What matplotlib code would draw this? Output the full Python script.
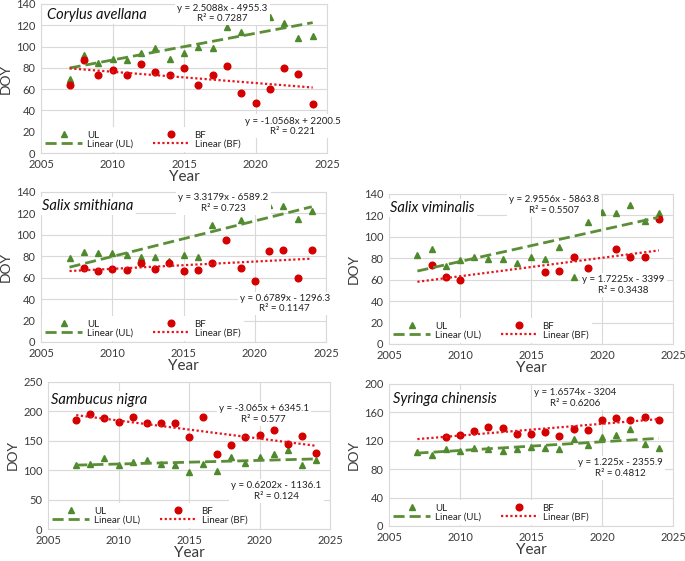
import numpy as np
import matplotlib
matplotlib.use('Agg')
import matplotlib.pyplot as plt
from matplotlib.lines import Line2D

plt.rcParams['font.family'] = ['Lato', 'DejaVu Sans']

nan = np.nan
years = list(range(2007, 2025))

# ---- data (DOY) ----
corylus_ul = [70, 92, 85, 88, 87, 94, 99, 88, 94, 100, 99, 118, 114, nan, 128, 122, 108, 110]
corylus_bf = [64, 87, 73, 78, 73, 84, 76, 73, 80, 64, 73, 82, 56, 47, 60, 80, 74, 46]
corylus_ul_fit = [2.5088, -4955.3]
corylus_bf_fit = [-1.0568, 2200.5]

smith_ul = [78, 84, 83, 83, 81, 79, 79, 76, 81, 79, 109, nan, 114, nan, 128, 127, 115, 122]
smith_bf = [nan, 69, 66, 68, 67, 74, 68, 74, 66, 67, 74, 95, 69, 57, 85, 86, 60, 86]
smith_ul_fit = [3.3179, -6589.2]
smith_bf_fit = [0.6789, -1296.3]

vimin_ul = [83, 89, 73, 78, 81, 79, 79, 76, 81, 79, 91, 63, 114, 123, 122, 130, 115, 122]
vimin_bf = [nan, 74, 63, 60, nan, nan, nan, nan, nan, 67, 68, 81, 71, nan, 89, 81, 81, 117]
vimin_ul_fit = [2.9556, -5863.8]
vimin_bf_fit = [1.7225, -3399]

samb_ul = [109, 110, 120, 109, 114, 117, 111, 109, 97, 110, 99, 122, 113, 123, 128, 135, 108, 117]
samb_bf = [185, 196, 188, 182, 190, 181, 180, 181, 156, 191, 127, 143, 157, 160, 168, 145, 158, 130]
samb_ul_fit = [0.6202, -1136.1]
samb_bf_fit = [-3.065, 6345.1]

syr_ul = [104, 100, 108, 105, 110, 109, 105, 109, 111, 110, 109, 122, 114, 125, 128, 137, 115, 110]
syr_bf = [nan, nan, 125, 128, 134, 140, 138, 129, 129, 132, 127, 136, 135, 150, 152, 150, 154, 150]
syr_ul_fit = [1.225, -2355.9]
syr_bf_fit = [1.6574, -3204]

ul_labels = ["y = 2.5088x - 4955.3\nR² = 0.7287", "y = 3.3179x - 6589.2\nR² = 0.723",
             "y = 2.9556x - 5863.8\nR² = 0.5507", "y = 0.6202x - 1136.1\nR² = 0.124",
             "y = 1.225x - 2355.9\nR² = 0.4812"]
bf_labels = ["y = -1.0568x + 2200.5\nR² = 0.221", "y = 0.6789x - 1296.3\nR² = 0.1147",
             "y = 1.7225x - 3399\nR² = 0.3438", "y = -3.065x + 6345.1\nR² = 0.577",
             "y = 1.6574x - 3204\nR² = 0.6206"]
species = ["Corylus avellana", "Salix smithiana", "Salix viminalis", "Sambucus nigra", "Syringa chinensis"]

GREEN = '#4E8A2C'
GREEN_L = '#5B8E36'
RED = '#D40000'
RED_L = '#E8141B'
GRID = '#D9D9D9'
TXT = '#3A3A3A'

W, H = 685, 561
fig = plt.figure(figsize=(W / 100, H / 100), dpi=100)


def axes_px(x0, y0, x1, y1):
    return fig.add_axes([x0 / W, 1 - y1 / H, (x1 - x0) / W, (y1 - y0) / H])


def panel(box, ul, bf, ulfit, bffit, name, ymax, ystep, name_pos, ul_pos, bf_pos, ul_lab, bf_lab):
    ax = axes_px(*box)
    ax.set_xlim(2005, 2025)
    ax.set_ylim(0, ymax)
    ax.set_xticks(range(2005, 2026, 5))
    ax.set_yticks(np.arange(0, ymax + 1, ystep))
    ax.grid(True, color=GRID, lw=0.8)
    ax.set_axisbelow(True)
    for s in ax.spines.values():
        s.set_color(GRID)
        s.set_linewidth(0.8)
    ax.tick_params(length=0, labelsize=8, colors=TXT, pad=4)
    ax.set_xlabel('Year', fontsize=11, color=TXT, labelpad=0)
    ax.set_ylabel('DOY', fontsize=10, color=TXT, labelpad=3)

    yrs = np.array(years, dtype=float)
    ax.plot(yrs, ul, ls='none', marker='^', ms=4.3, color=GREEN, zorder=3)
    ax.plot(yrs, bf, ls='none', marker='o', ms=4.8, color=RED, zorder=3)
    xs = np.array([years[0], years[-1]], dtype=float)
    ax.plot(xs, ulfit[0] * xs + ulfit[1], color=GREEN_L, lw=2, ls=(0, (4, 1.8)), zorder=4)
    ax.plot(xs, bffit[0] * xs + bffit[1], color=RED_L, lw=1.6, ls=(0, (1, 1.1)), zorder=4)

    ax.text(name_pos[0], name_pos[1], name, fontsize=10.5, style='italic', color='#111111',
            ha='left', va='center', zorder=6,
            bbox=dict(facecolor='white', edgecolor='none', pad=1.5))
    ax.text(ul_pos[0], ul_pos[1], ul_lab, fontsize=7, ha='center', va='center', color='#222222',
            linespacing=1.25, zorder=6, bbox=dict(facecolor='white', edgecolor='none', pad=1.5))
    ax.text(bf_pos[0], bf_pos[1], bf_lab, fontsize=7, ha='center', va='center', color='#222222',
            linespacing=1.25, zorder=6, bbox=dict(facecolor='white', edgecolor='none', pad=1.5))

    handles = [Line2D([], [], ls='none', marker='^', ms=4.3, color=GREEN),
               Line2D([], [], color=GREEN_L, lw=2, ls=(0, (4, 1.8))),
               Line2D([], [], ls='none', marker='o', ms=4.8, color=RED),
               Line2D([], [], color=RED_L, lw=1.6, ls=(0, (1, 1.1)))]
    labels = ['UL', 'Linear (UL)', 'BF', 'Linear (BF)']
    leg = ax.legend(handles, labels, ncol=2, loc='lower left', bbox_to_anchor=(0, 0),
                    borderaxespad=0.1, fontsize=7, handlelength=3.8, handletextpad=0.5,
                    columnspacing=2.0, labelspacing=0.0, borderpad=0.35,
                    frameon=True, fancybox=False, edgecolor='none', facecolor='white',
                    framealpha=1)
    for t in leg.get_texts():
        t.set_color('#222222')
    leg.set_zorder(7)
    return ax


panel((41, 4, 327, 153), corylus_ul, corylus_bf, corylus_ul_fit, corylus_bf_fit,
      species[0], 140, 20, (2005.4, 130), (2017.7, 131), (2022.6, 25), ul_labels[0], bf_labels[0])
panel((41, 192, 326, 342), smith_ul, smith_bf, smith_ul_fit, smith_bf_fit,
      species[1], 140, 20, (2005.1, 127), (2017.8, 130), (2022.1, 36), ul_labels[1], bf_labels[1])
panel((389, 194, 673, 344), vimin_ul, vimin_bf, vimin_ul_fit, vimin_bf_fit,
      species[2], 140, 20, (2005.1, 127), (2016.6, 130), (2021.5, 55), ul_labels[2], bf_labels[2])
panel((48, 382, 330, 529), samb_ul, samb_bf, samb_ul_fit, samb_bf_fit,
      species[3], 250, 50, (2005.2, 219), (2021.2, 65), (2020.3, 196), ul_labels[3], bf_labels[3])
panel((389, 384, 673, 526), syr_ul, syr_bf, syr_ul_fit, syr_bf_fit,
      species[4], 200, 40, (2005.3, 179), (2021.3, 82), (2018.1, 180), ul_labels[4], bf_labels[4])

fig.savefig('out.png', dpi=100)
